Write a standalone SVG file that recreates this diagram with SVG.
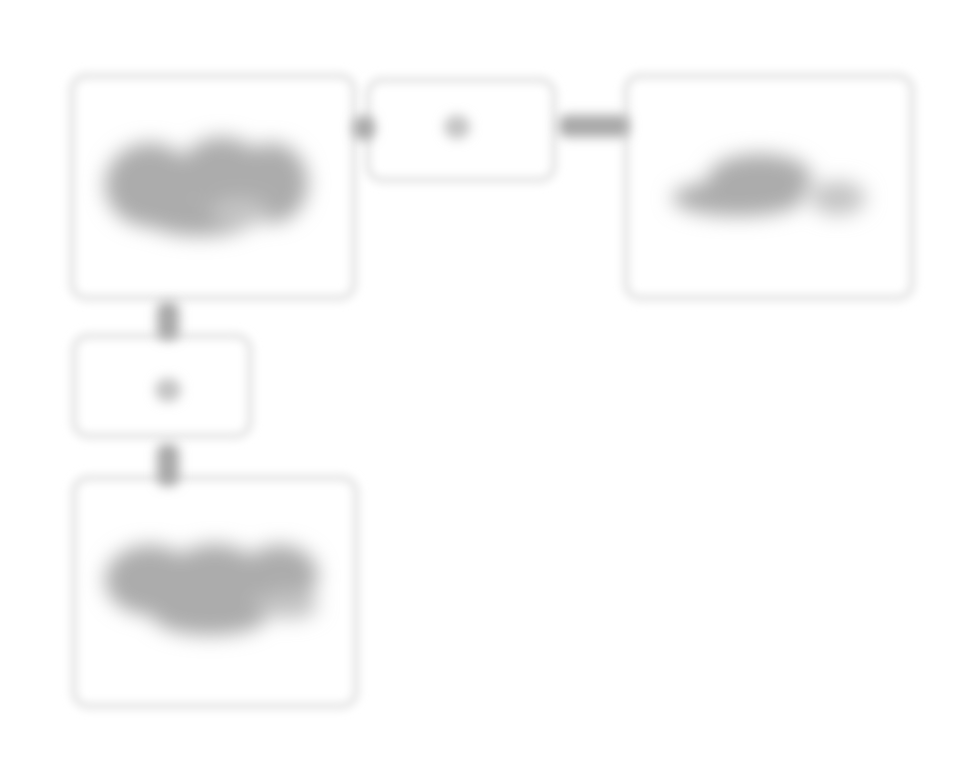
<svg xmlns="http://www.w3.org/2000/svg" width="970" height="783" viewBox="0 0 970 783">
<defs>
<filter id="bb" x="-20%" y="-20%" width="140%" height="140%"><feGaussianBlur stdDeviation="4"/></filter>
<filter id="bl" x="-30%" y="-50%" width="160%" height="200%"><feGaussianBlur stdDeviation="10"/></filter>
<filter id="bc" x="-150%" y="-150%" width="400%" height="400%"><feGaussianBlur stdDeviation="6"/></filter>
</defs>
<style>
.box{fill:none;stroke:#e6e6e6;stroke-width:7;filter:url(#bb)}
.blob{fill:#acacac;filter:url(#bl)}
.blob .lt{fill:#c4c4c4}
.con{fill:#a8a8a8;filter:url(#bc)}
.dot{fill:#c4c4c4;filter:url(#bc)}
</style>
<rect width="970" height="783" fill="#ffffff"/>
<g id="node-a">
<rect class="box" x="72" y="76" width="282" height="222" rx="14"/>
<g class="blob">
<ellipse cx="150" cy="185" rx="45" ry="42"/>
<ellipse cx="222" cy="172" rx="42" ry="35"/>
<ellipse cx="272" cy="183" rx="36" ry="40"/>
<ellipse cx="200" cy="218" rx="55" ry="18"/>
<ellipse class="lt" cx="240" cy="212" rx="30" ry="14"/>
</g>
</g>
<g id="node-b">
<rect class="box" x="368" y="80" width="186" height="100" rx="14"/>
<ellipse class="dot" cx="457" cy="127" rx="13" ry="12"/>
</g>
<g id="node-c">
<rect class="box" x="626" y="76" width="286" height="222" rx="14"/>
<g class="blob">
<ellipse cx="760" cy="178" rx="52" ry="24"/>
<ellipse cx="738" cy="198" rx="66" ry="18"/>
<ellipse class="lt" cx="838" cy="198" rx="28" ry="17"/>
</g>
</g>
<g id="node-d">
<rect class="box" x="74" y="336" width="176" height="100" rx="14"/>
<ellipse class="dot" cx="168" cy="390" rx="13" ry="12"/>
</g>
<g id="node-e">
<rect class="box" x="74" y="478" width="282" height="228" rx="14"/>
<g class="blob">
<ellipse cx="150" cy="580" rx="45" ry="35"/>
<ellipse cx="215" cy="580" rx="48" ry="36"/>
<ellipse cx="280" cy="575" rx="38" ry="30"/>
<ellipse cx="210" cy="615" rx="58" ry="20"/>
<ellipse class="lt" cx="290" cy="605" rx="28" ry="14"/>
</g>
</g>
<g id="connectors">
<rect class="con" x="353" y="116" width="22" height="24" rx="9"/>
<rect class="con" x="559" y="115" width="70" height="22" rx="7"/>
<rect class="con" x="157" y="302" width="22" height="38" rx="8"/>
<rect class="con" x="157" y="444" width="22" height="42" rx="8"/>
</g>
</svg>
